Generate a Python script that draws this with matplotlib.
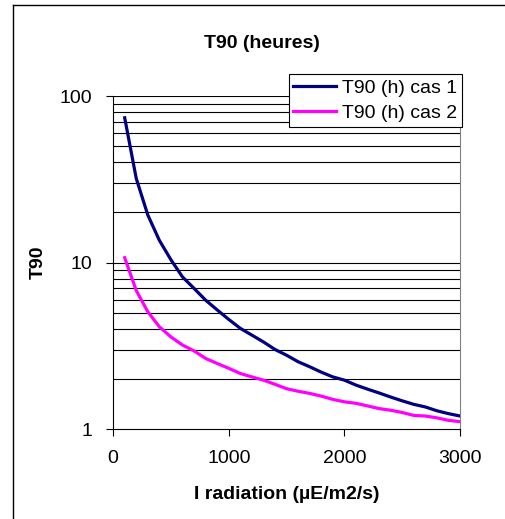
import matplotlib.pyplot as plt
from matplotlib.lines import Line2D
from matplotlib.ticker import FixedLocator, NullFormatter

plt.rcParams['font.family'] = ['Liberation Sans', 'DejaVu Sans']

x = [100, 200, 300, 400, 500, 600, 700, 800, 900, 1000,
     1100, 1200, 1300, 1400, 1500, 1600, 1700, 1800, 1900, 2000,
     2100, 2200, 2300, 2400, 2500, 2600, 2700, 2800, 2900, 3000]
cas1 = [74, 32, 19.3, 13.6, 10.4, 8.2, 7.0, 5.95, 5.2, 4.56,
        4.03, 3.67, 3.34, 3.01, 2.78, 2.54, 2.37, 2.20, 2.06, 1.97,
        1.84, 1.74, 1.65, 1.56, 1.48, 1.41, 1.36, 1.29, 1.24, 1.20]
cas2 = [10.7, 6.8, 5.07, 4.12, 3.58, 3.2, 2.95, 2.66, 2.48, 2.32,
        2.16, 2.06, 1.97, 1.86, 1.75, 1.69, 1.64, 1.58, 1.51, 1.46,
        1.43, 1.38, 1.33, 1.30, 1.26, 1.21, 1.20, 1.17, 1.13, 1.11]
grid_vals = [2, 3, 4, 5, 6, 7, 8, 9, 10, 20, 30, 40, 50, 60, 70, 80, 90, 100]

fig = plt.figure(figsize=(5.05, 5.19), dpi=100)
ax = fig.add_axes([0.224, 0.173, 0.687, 0.642])

ax.set_yscale('log')
ax.set_ylim(1, 100)
ax.set_xlim(0, 3000)
for g in grid_vals:
    ax.axhline(g, color='black', lw=0.8, zorder=1)

ax.plot(x, cas1, color='#000080', lw=2.3, label='T90 (h) cas 1', zorder=3)
ax.plot(x, cas2, color='#FF00FF', lw=2.3, label='T90 (h) cas 2', zorder=3)

ax.set_xticks([0, 1000, 2000, 3000])
ax.yaxis.set_major_locator(FixedLocator([1, 10, 100]))
ax.set_yticklabels(['1', '10', '100'])
ax.yaxis.set_minor_locator(FixedLocator([]))
ax.yaxis.set_minor_formatter(NullFormatter())
ax.tick_params(labelsize=14, length=5, width=0.8, direction='out', pad=10)

ax.spines['top'].set_visible(False)
ax.spines['right'].set_color('#808080')
ax.spines['left'].set_linewidth(0.8)
ax.spines['bottom'].set_linewidth(0.8)

ax.set_xlabel('I radiation (µE/m2/s)', fontsize=14, fontweight='bold', labelpad=14)
ax.set_ylabel('T90', fontsize=14, fontweight='bold', labelpad=9)
fig.text(0.519, 0.917, 'T90 (heures)', ha='center', va='center',
         fontsize=14, fontweight='bold')

leg = fig.legend(loc='upper right', bbox_to_anchor=(0.915, 0.857), fontsize=14,
                 fancybox=False, edgecolor='black', framealpha=1,
                 handlelength=2.2, handletextpad=0.3, borderpad=0.25,
                 labelspacing=0.4, borderaxespad=0)
leg.get_frame().set_linewidth(0.8)

# outer chart border: only left and top edges show in the image
x0 = 12.5 / 505
y0 = 1 - 4.5 / 519
fig.add_artist(Line2D([x0, x0], [0, y0], transform=fig.transFigure, color='black', lw=1))
fig.add_artist(Line2D([x0, 0.999], [y0, y0], transform=fig.transFigure, color='black', lw=1))

fig.savefig('out.png', dpi=100)
